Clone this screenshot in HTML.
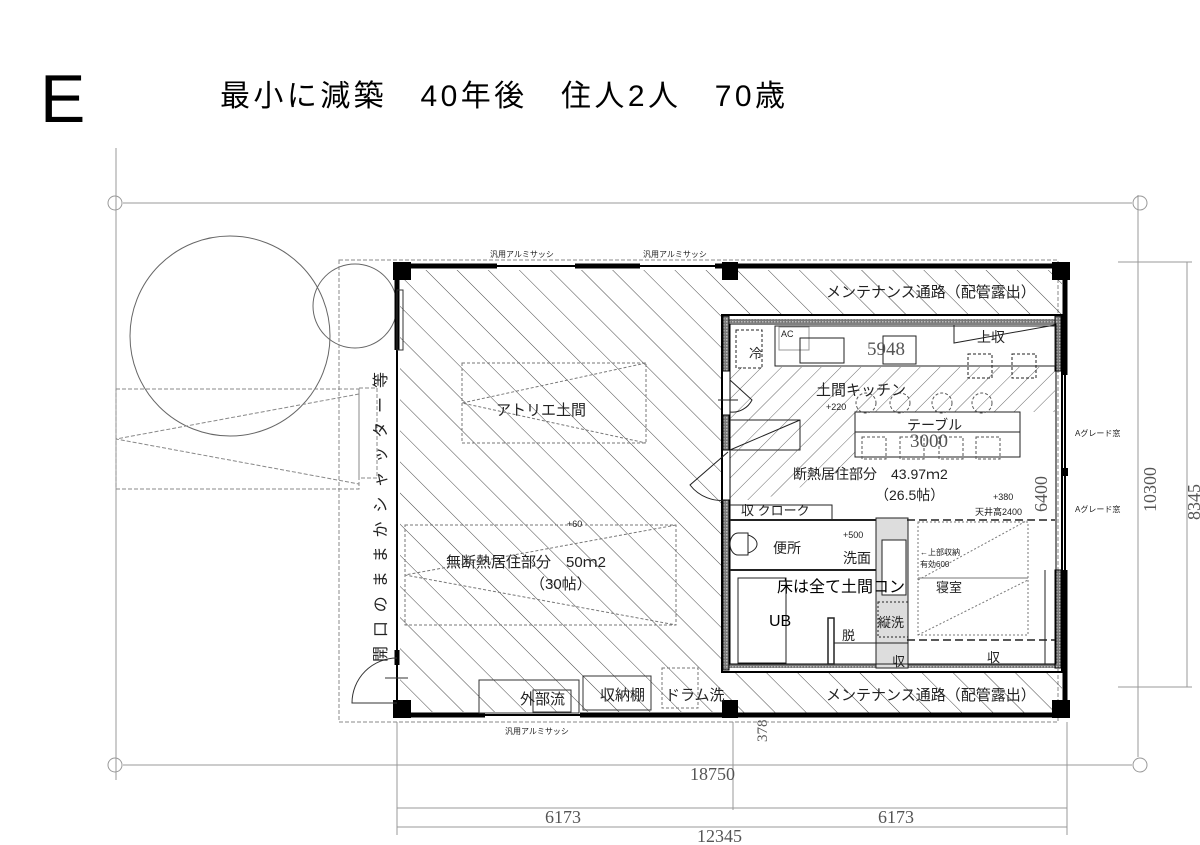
<!DOCTYPE html>
<html><head><meta charset="utf-8"><style>
html,body{margin:0;padding:0;background:#fff;width:1200px;height:845px;overflow:hidden}
svg text{font-family:"Liberation Sans","Noto Sans CJK JP",sans-serif;fill:#222}
svg text.d{font-family:"Liberation Serif",serif;fill:#555}
</style></head><body>
<svg width="1200" height="845" viewBox="0 0 1200 845" xmlns="http://www.w3.org/2000/svg">
<defs>
<pattern id="hb" patternUnits="userSpaceOnUse" width="22" height="22" patternTransform="rotate(-45)">
<line x1="0" y1="0" x2="0" y2="22" stroke="#333" stroke-width="0.9"/></pattern>
<pattern id="hf" patternUnits="userSpaceOnUse" width="14" height="14" patternTransform="rotate(45)">
<line x1="0" y1="0" x2="0" y2="14" stroke="#444" stroke-width="0.8"/></pattern>
<pattern id="gr" patternUnits="userSpaceOnUse" width="3" height="3"><rect width="3" height="3" fill="#777"/><rect width="1.5" height="1.5" fill="#bbb"/></pattern>
</defs>
<text x="40" y="122" font-size="68" style="fill:#000">E</text>
<text x="220" y="106" font-size="30" textLength="565" style="fill:#000">最小に減築　40年後　住人2人　70歳</text>

<g stroke="#999" stroke-width="1" fill="none">
<line x1="123" y1="203" x2="1132" y2="203"/><circle cx="115" cy="203" r="7"/><circle cx="1140" cy="203" r="7"/>
<line x1="123" y1="765" x2="1132" y2="765"/><circle cx="115" cy="765" r="7"/><circle cx="1140" cy="765" r="7"/>
<line x1="116" y1="148" x2="116" y2="780"/>
<line x1="1138" y1="195" x2="1138" y2="757"/>
<line x1="1118" y1="262" x2="1192" y2="262"/><line x1="1118" y1="687" x2="1192" y2="687"/>
<line x1="1187" y1="262" x2="1187" y2="687"/>
<line x1="397" y1="722" x2="397" y2="835"/><line x1="1067" y1="722" x2="1067" y2="835"/><line x1="733" y1="722" x2="733" y2="810"/>
<line x1="397" y1="808" x2="1067" y2="808"/><line x1="397" y1="827" x2="1067" y2="827"/>
</g>
<text class="d" x="690" y="780" font-size="18">18750</text>
<text class="d" x="545" y="823" font-size="18">6173</text>
<text class="d" x="878" y="823" font-size="18">6173</text>
<text class="d" x="697" y="842" font-size="18">12345</text>
<text class="d" transform="translate(1156,512) rotate(-90)" font-size="18">10300</text>
<text class="d" transform="translate(1200,520) rotate(-90)" font-size="18">8345</text>
<text class="d" transform="translate(1047,512) rotate(-90)" font-size="18">6400</text>
<text class="d" transform="translate(767,742) rotate(-90)" font-size="15">378</text>

<g fill="none" stroke="#666" stroke-width="1">
<circle cx="230" cy="336" r="100"/><circle cx="355" cy="306" r="42"/>
</g>
<g fill="none" stroke="#888" stroke-width="1" stroke-dasharray="4,2">
<rect x="116" y="389" width="243" height="100"/>
<polyline points="359,394 116,439 359,484"/>
<rect x="339" y="260" width="719" height="462"/>
<rect x="359" y="388" width="18" height="90"/>
</g>

<rect x="400" y="270" width="322" height="442" fill="url(#hb)"/>
<rect x="722" y="270" width="340" height="45" fill="url(#hb)"/>
<rect x="722" y="672" width="340" height="42" fill="url(#hb)"/>
<polygon points="730,367 1055,367 1055,412 855,412 855,470 760,500 730,500" fill="url(#hf)"/>

<g stroke="#000" fill="none">
<rect x="397" y="266" width="668" height="449" stroke-width="2"/>
<line x1="397" y1="266" x2="497" y2="266" stroke-width="5"/>
<line x1="575" y1="266" x2="640" y2="266" stroke-width="5"/>
<line x1="715" y1="266" x2="1065" y2="266" stroke-width="5"/>
<line x1="397" y1="715" x2="485" y2="715" stroke-width="5"/>
<line x1="580" y1="715" x2="1065" y2="715" stroke-width="5"/>
<line x1="397" y1="266" x2="397" y2="350" stroke-width="5"/>
<line x1="397" y1="650" x2="397" y2="665" stroke-width="5"/>
<line x1="1065" y1="266" x2="1065" y2="375" stroke-width="5"/>
<line x1="1065" y1="570" x2="1065" y2="715" stroke-width="5"/>
<line x1="1065" y1="468" x2="1065" y2="476" stroke-width="6"/>
</g>
<g fill="#000">
<rect x="393" y="262" width="18" height="18"/><rect x="393" y="700" width="18" height="18"/>
<rect x="722" y="262" width="16" height="18"/><rect x="1052" y="262" width="18" height="18"/>
<rect x="1052" y="700" width="18" height="18"/><rect x="722" y="700" width="16" height="18"/>
</g>
<text x="490" y="257" font-size="8">汎用アルミサッシ</text>
<text x="643" y="257" font-size="8">汎用アルミサッシ</text>
<text x="505" y="734" font-size="8">汎用アルミサッシ</text>
<text x="1075" y="436" font-size="8">Aグレード窓</text>
<text x="1075" y="512" font-size="8">Aグレード窓</text>

<g>
<rect x="722" y="315" width="340" height="357" fill="none" stroke="#000" stroke-width="2"/>
<rect x="726" y="319" width="332" height="4" fill="url(#gr)"/>
<rect x="726" y="664" width="332" height="4" fill="url(#gr)"/>
<rect x="723" y="316" width="6" height="55" fill="url(#gr)" stroke="#000"/>
<rect x="723" y="415" width="6" height="35" fill="url(#gr)" stroke="#000"/>
<rect x="723" y="500" width="6" height="170" fill="url(#gr)" stroke="#000"/>
<rect x="1055" y="316" width="6" height="55" fill="url(#gr)" stroke="#000"/>
<rect x="1055" y="570" width="6" height="98" fill="url(#gr)" stroke="#000"/>
<rect x="730" y="324" width="326" height="340" fill="none" stroke="#000" stroke-width="1"/>
</g>
<text x="826" y="297" font-size="15">メンテナンス通路（配管露出）</text>
<text x="826" y="700" font-size="15">メンテナンス通路（配管露出）</text>

<g fill="none" stroke="#222" stroke-width="1">
<rect x="736" y="330" width="26" height="38" stroke-dasharray="3,2"/>
<rect x="775" y="326" width="280" height="40"/>
<rect x="779" y="327" width="30" height="23" stroke="#999"/>
<rect x="800" y="338" width="44" height="25"/>
<rect x="883" y="336" width="33" height="28"/>
<polyline points="954,325 954,343 1055,325"/>
<rect x="968" y="354" width="24" height="24" stroke-dasharray="3,2"/>
<rect x="1012" y="354" width="24" height="24" stroke-dasharray="3,2"/>
<rect x="855" y="412" width="165" height="45"/>
<line x1="855" y1="432" x2="1020" y2="432"/>
<polyline points="730,420 800,420 800,450 730,450 800,420"/>
<polyline points="730,505 832,505 832,520 730,520"/>
<line x1="730" y1="520" x2="907" y2="520" stroke-width="2"/>
<line x1="730" y1="570" x2="907" y2="570" stroke-width="2"/>
<path d="M738,533 h10 v22 h-10 a8,11 0 0 1 0,-22z"/>
<path d="M748,535 a16,10 0 0 1 0,18z"/>
<rect x="738" y="578" width="48" height="85"/>
<rect x="828" y="618" width="6" height="46" stroke-width="1.5"/>
<rect x="876" y="518" width="32" height="150" fill="#ddd"/>
<rect x="882" y="540" width="24" height="55" fill="#fff"/>
<rect x="878" y="602" width="30" height="35" stroke-dasharray="2,2"/>
<line x1="834" y1="643" x2="908" y2="643"/>
<line x1="834" y1="664" x2="908" y2="664"/>
<line x1="907" y1="520" x2="1055" y2="520" stroke-dasharray="8,4" stroke-width="1.5"/>
<line x1="907" y1="640" x2="1055" y2="640" stroke-dasharray="8,4" stroke-width="1.5"/>
<rect x="918" y="522" width="110" height="113" stroke-dasharray="2,2" stroke="#777"/>
<line x1="918" y1="578" x2="1028" y2="578" stroke="#777"/>
<polyline points="918,580 1028,520" stroke-dasharray="2,2" stroke="#777"/>
<polyline points="918,635 1028,580" stroke-dasharray="2,2" stroke="#777"/>
<path d="M730,380 L752,400 A22,22 0 0 1 730,412" />
<path d="M728,452 L690,485 A40,40 0 0 0 728,500" />
<line x1="718" y1="400" x2="738" y2="400"/>
<line x1="1045" y1="570" x2="1045" y2="664"/>
</g>
<g fill="none" stroke="#555" stroke-dasharray="3,2">
<circle cx="866" cy="403" r="10"/><circle cx="900" cy="403" r="10"/><circle cx="942" cy="403" r="10"/><circle cx="982" cy="403" r="10"/>
<rect x="862" y="437" width="24" height="22"/><rect x="900" y="437" width="24" height="22"/><rect x="939" y="437" width="24" height="22"/><rect x="976" y="437" width="24" height="22"/>
</g>
<text x="749" y="358" font-size="13">冷</text>
<text x="781" y="337" font-size="9">AC</text>
<text class="d" x="867" y="355" font-size="19">5948</text>
<text x="977" y="342" font-size="14">上収</text>
<text x="816" y="395" font-size="15">土間キッチン</text>
<text x="826" y="410" font-size="9">+220</text>
<text x="907" y="430" font-size="14">テーブル</text>
<text class="d" x="910" y="447" font-size="19">3000</text>
<text x="793" y="479" font-size="14">断熱居住部分　43.97ｍ2</text>
<text x="875" y="500" font-size="14">（26.5帖）</text>
<text x="993" y="500" font-size="9">+380</text>
<text x="975" y="515" font-size="9">天井高2400</text>
<text x="741" y="515" font-size="13">収 クローク</text>
<text x="773" y="553" font-size="14">便所</text>
<text x="843" y="538" font-size="9">+500</text>
<text x="843" y="563" font-size="14">洗面</text>
<text x="920" y="555" font-size="8">←上部収納</text>
<text x="920" y="567" font-size="8">有効600</text>
<text x="777" y="592" font-size="16" style="fill:#000">床は全て土間コン</text>
<text x="936" y="592" font-size="13">寝室</text>
<text x="769" y="626" font-size="16" style="fill:#000">UB</text>
<text x="842" y="640" font-size="13">脱</text>
<text x="878" y="627" font-size="13">縦洗</text>
<text x="892" y="666" font-size="13">収</text>
<text x="987" y="662" font-size="13">収</text>

<g fill="none" stroke="#777" stroke-dasharray="3,2">
<rect x="462" y="363" width="184" height="80"/>
<polyline points="646,363 462,403 646,443"/>
<rect x="405" y="525" width="271" height="100"/>
<polyline points="676,525 405,575 676,625"/>
<rect x="662" y="668" width="36" height="40"/>
</g>
<g fill="none" stroke="#333">
<rect x="479" y="680" width="100" height="33"/>
<rect x="583" y="676" width="68" height="34"/>
<rect x="533" y="690" width="38" height="22"/>
<path d="M397,658 A45,45 0 0 0 352,703 L397,703"/>
<line x1="385" y1="678" x2="408" y2="678"/>
<rect x="397" y="290" width="6" height="60"/>
</g>
<text x="496" y="415" font-size="15">アトリエ土間</text>
<text x="567" y="527" font-size="9">+60</text>
<text x="446" y="567" font-size="15">無断熱居住部分　50ｍ2</text>
<text x="530" y="589" font-size="15">（30帖）</text>
<text x="520" y="704" font-size="15">外部流</text>
<text x="600" y="700" font-size="15">収納棚</text>
<text x="665" y="700" font-size="15">ドラム洗</text>
<text transform="translate(386,662) rotate(-90)" font-size="16" textLength="290">開口のままかシャッター等</text>
</svg>
</body></html>
